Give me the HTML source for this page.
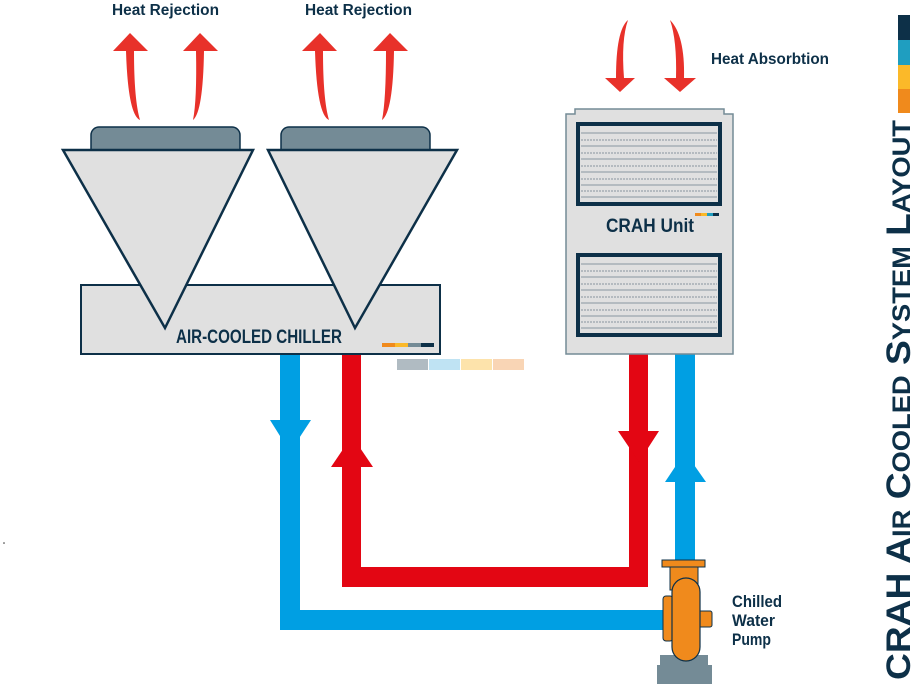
<!DOCTYPE html>
<html><head><meta charset="utf-8"><style>
body{margin:0;width:916px;height:684px;background:#fff;overflow:hidden}
svg{display:block}
text{font-family:"Liberation Sans Narrow","Liberation Sans",sans-serif;font-weight:bold;fill:#0d3048}
</style></head><body>
<svg width="916" height="684" viewBox="0 0 916 684" xmlns="http://www.w3.org/2000/svg">
<text x="112" y="15" font-size="16" textLength="107" lengthAdjust="spacingAndGlyphs">Heat Rejection</text>
<text x="305" y="15" font-size="16" textLength="107" lengthAdjust="spacingAndGlyphs">Heat Rejection</text>
<text x="711" y="64" font-size="16" textLength="118" lengthAdjust="spacingAndGlyphs">Heat Absorbtion</text>
<g fill="#e8312a">
<path d="M113,51 L130,33 L148,51 L134,51 Q134,100 140,120 Q128,115 126,51 Z"/>
<path d="M183,51 L200,33 L218,51 L204,51 Q203,112 193,120 Q197,100 196,51 Z"/>
<path d="M302,51 L320,33 L337,51 L323,51 Q323,100 329,120 Q317,115 315,51 Z"/>
<path d="M373,51 L390,33 L408,51 L394,51 Q393,112 382,120 Q386,100 386,51 Z"/>
<path d="M605,78 L620,92 L635,78 L624,78 Q621,40 628,20 Q616,30 616,78 Z"/>
<path d="M664,78 L680,92 L696,78 L684,78 Q685,35 670,20 Q677,40 676,78 Z"/>
</g>
<rect x="91" y="127" width="149" height="30" rx="8" fill="#748b96" stroke="#0d3048" stroke-width="1.5"/>
<rect x="281" y="127" width="149" height="30" rx="8" fill="#748b96" stroke="#0d3048" stroke-width="1.5"/>
<rect x="81" y="285" width="359" height="69" fill="#e0e0e0" stroke="#0d3048" stroke-width="2"/>
<polygon points="63,150 253,150 165,328" fill="#e0e0e0" stroke="#0d3048" stroke-width="2.5"/>
<polygon points="268,150 457,150 355,328" fill="#e0e0e0" stroke="#0d3048" stroke-width="2.5"/>
<text x="176" y="343" font-size="19" textLength="166" lengthAdjust="spacingAndGlyphs">AIR-COOLED CHILLER</text>
<rect x="382" y="343" width="13" height="4" fill="#f08a1c"/><rect x="395" y="343" width="13" height="4" fill="#fbb929"/><rect x="408" y="343" width="13" height="4" fill="#748b96"/><rect x="421" y="343" width="13" height="4" fill="#0d3048"/>
<rect x="397" y="359" width="31" height="11" fill="#b0bbc2"/><rect x="429" y="359" width="31" height="11" fill="#bfe3f3"/><rect x="461" y="359" width="31" height="11" fill="#fde3ab"/><rect x="493" y="359" width="31" height="11" fill="#f9d5b5"/>
<g fill="#009fe3">
<rect x="280" y="355" width="20" height="275"/>
<rect x="280" y="610" width="390" height="20"/>
<rect x="675" y="354" width="20" height="215"/>
<polygon points="270,420 311,420 290,452"/>
<polygon points="665,482 706,482 685,452"/>
</g>
<g fill="#e30613">
<rect x="342" y="355" width="19" height="232"/>
<rect x="342" y="567" width="306" height="20"/>
<rect x="629" y="354" width="19" height="233"/>
<polygon points="331,467 373,467 352,436"/>
<polygon points="618,431 659,431 639,462"/>
</g>
<path d="M566,114 L575,114 L575,109 L724,109 L724,114 L733,114 L733,354 L566,354 Z" fill="#e0e0e0" stroke="#748b96" stroke-width="1.5"/>
<g>
<rect x="578" y="124" width="142" height="80" fill="#e0e0e0" stroke="#0d3048" stroke-width="4"/>
<rect x="578" y="255" width="142" height="80" fill="#e0e0e0" stroke="#0d3048" stroke-width="4"/>
<g stroke="#9aa5ad" stroke-width="1.2">
<line x1="581" y1="133" x2="717" y2="133"/><line x1="581" y1="146" x2="717" y2="146"/><line x1="581" y1="159" x2="717" y2="159"/><line x1="581" y1="172" x2="717" y2="172"/><line x1="581" y1="185" x2="717" y2="185"/><line x1="581" y1="197" x2="717" y2="197"/>
<line x1="581" y1="264" x2="717" y2="264"/><line x1="581" y1="277" x2="717" y2="277"/><line x1="581" y1="290" x2="717" y2="290"/><line x1="581" y1="303" x2="717" y2="303"/><line x1="581" y1="316" x2="717" y2="316"/><line x1="581" y1="328" x2="717" y2="328"/>
</g>
<g stroke="#6b7c88" stroke-width="0.8" stroke-dasharray="2,1">
<line x1="581" y1="140" x2="717" y2="140"/><line x1="581" y1="153" x2="717" y2="153"/><line x1="581" y1="166" x2="717" y2="166"/><line x1="581" y1="179" x2="717" y2="179"/><line x1="581" y1="191" x2="717" y2="191"/>
<line x1="581" y1="271" x2="717" y2="271"/><line x1="581" y1="284" x2="717" y2="284"/><line x1="581" y1="297" x2="717" y2="297"/><line x1="581" y1="310" x2="717" y2="310"/><line x1="581" y1="322" x2="717" y2="322"/>
</g>
</g>
<text x="606" y="232" font-size="19" textLength="88" lengthAdjust="spacingAndGlyphs">CRAH Unit</text>
<rect x="695" y="213" width="6" height="3" fill="#f08a1c"/><rect x="701" y="213" width="6" height="3" fill="#fbb929"/><rect x="707" y="213" width="6" height="3" fill="#1f9ec0"/><rect x="713" y="213" width="6" height="3" fill="#0d3048"/>
<rect x="657" y="665" width="55" height="19" fill="#748b96"/>
<rect x="660" y="655" width="48" height="11" fill="#748b96"/>
<rect x="663" y="596" width="10" height="45" rx="3" fill="#f08a1c" stroke="#0d3048" stroke-width="1"/>
<rect x="697" y="611" width="15" height="16" rx="2" fill="#f08a1c" stroke="#0d3048" stroke-width="1"/>
<path d="M670,566 L698,566 L698,590 L670,590 Z" fill="#f08a1c" stroke="#0d3048" stroke-width="1"/>
<rect x="662" y="560" width="43" height="7" fill="#f08a1c" stroke="#0d3048" stroke-width="1"/>
<rect x="672" y="578" width="28" height="83" rx="14" fill="#f08a1c" stroke="#0d3048" stroke-width="1.2"/>
<text x="732" y="607" font-size="17" textLength="50" lengthAdjust="spacingAndGlyphs">Chilled</text>
<text x="732" y="626" font-size="17" textLength="43" lengthAdjust="spacingAndGlyphs">Water</text>
<text x="732" y="645" font-size="17" textLength="39" lengthAdjust="spacingAndGlyphs">Pump</text>
<text transform="translate(910,680) rotate(-90)" font-size="34" textLength="560" lengthAdjust="spacingAndGlyphs">CRAH A<tspan font-size="25">IR</tspan> C<tspan font-size="25">OOLED</tspan> S<tspan font-size="25">YSTEM</tspan> L<tspan font-size="25">AYOUT</tspan></text>
<rect x="898" y="15" width="12" height="25" fill="#0d3048"/>
<rect x="898" y="40" width="12" height="25" fill="#1f9ec0"/>
<rect x="898" y="65" width="12" height="24" fill="#fbb929"/>
<rect x="898" y="89" width="12" height="24" fill="#f08a1c"/>
<circle cx="4" cy="543" r="0.8" fill="#333"/>
</svg>
</body></html>
